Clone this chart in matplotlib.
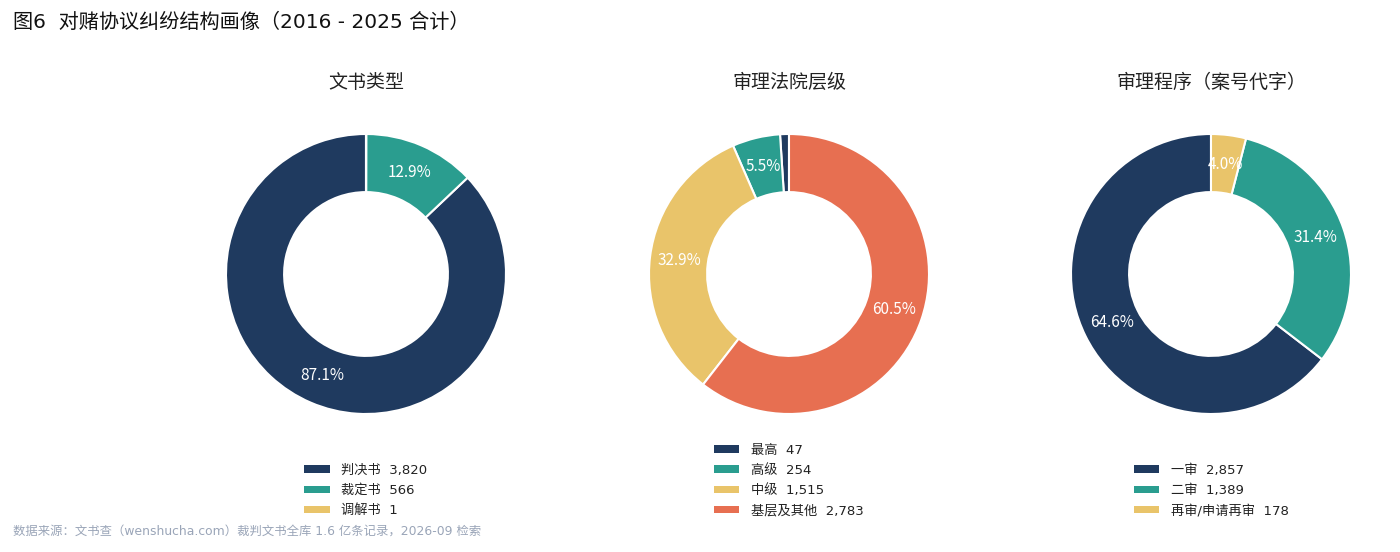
import matplotlib
matplotlib.use("Agg")
import matplotlib.pyplot as plt
from matplotlib.patches import Patch

FAM = ['DejaVu Sans', 'Noto Sans CJK SC']
plt.rcParams['font.family'] = FAM

title = "图6  对赌协议纠纷结构画像（2016 - 2025 合计）"
footer = "数据来源：文书查（wenshucha.com）裁判文书全库 1.6 亿条记录，2026-09 检索"

doc_title = "文书类型"
doc_labels = ["判决书", "裁定书", "调解书"]
doc_values = [3820, 566, 1]

court_title = "审理法院层级"
court_labels = ["最高", "高级", "中级", "基层及其他"]
court_values = [47, 254, 1515, 2783]

proc_title = "审理程序（案号代字）"
proc_labels = ["一审", "二审", "再审/申请再审"]
proc_values = [2857, 1389, 178]

colors = ["#1f3a5f", "#2a9d8f", "#e9c46a", "#e76f51"]

W, H = 1400, 552
fig = plt.figure(figsize=(W / 100, H / 100), dpi=100)
fig.patch.set_facecolor("white")

fig.text(13 / W, 1 - 22 / H, title, fontsize=14.5, va="center", ha="left", color="#111111")
fig.text(13 / W, 1 - 531 / H, footer, fontsize=8.9, va="center", ha="left", color="#9aa5b8")

panels = [
    (366, doc_title, doc_labels, doc_values),
    (789, court_title, court_labels, court_values),
    (1211, proc_title, proc_labels, proc_values),
]

R = 140
cy = 274
for cx, ttl, labels, values in panels:
    ax = fig.add_axes([(cx - R) / W, (H - cy - R) / H, 2 * R / W, 2 * R / H])
    wedges, texts, autotexts = ax.pie(
        values,
        colors=colors[:len(values)],
        startangle=90,
        counterclock=True,
        radius=1.0,
        wedgeprops=dict(width=0.415, edgecolor="white", linewidth=1.5),
        autopct=lambda p: f"{p:.1f}%" if p >= 2 else "",
        pctdistance=0.79,
        textprops=dict(color="white", fontsize=11, family=['Noto Sans CJK SC']),
    )
    ax.set_xlim(-1.0, 1.0)
    ax.set_ylim(-1.0, 1.0)
    ax.set_aspect("equal")
    ax.axis("off")
    fig.text(cx / W, 1 - 82 / H, ttl, fontsize=13.7, ha="center", va="center", color="#222222")
    handles = [Patch(facecolor=colors[i], edgecolor="none") for i in range(len(values))]
    leg_labels = [f"{l}  {v:,}" for l, v in zip(labels, values)]
    fig.legend(
        handles, leg_labels,
        loc="lower center",
        bbox_to_anchor=(cx / W, 1 - 524 / H),
        frameon=False,
        fontsize=9.5,
        handlelength=1.9,
        handleheight=0.5,
        handletextpad=0.9,
        labelspacing=0.55,
        labelcolor="#222222",
        borderpad=0.0,
    )

fig.savefig("out.png", dpi=100, facecolor="white")
